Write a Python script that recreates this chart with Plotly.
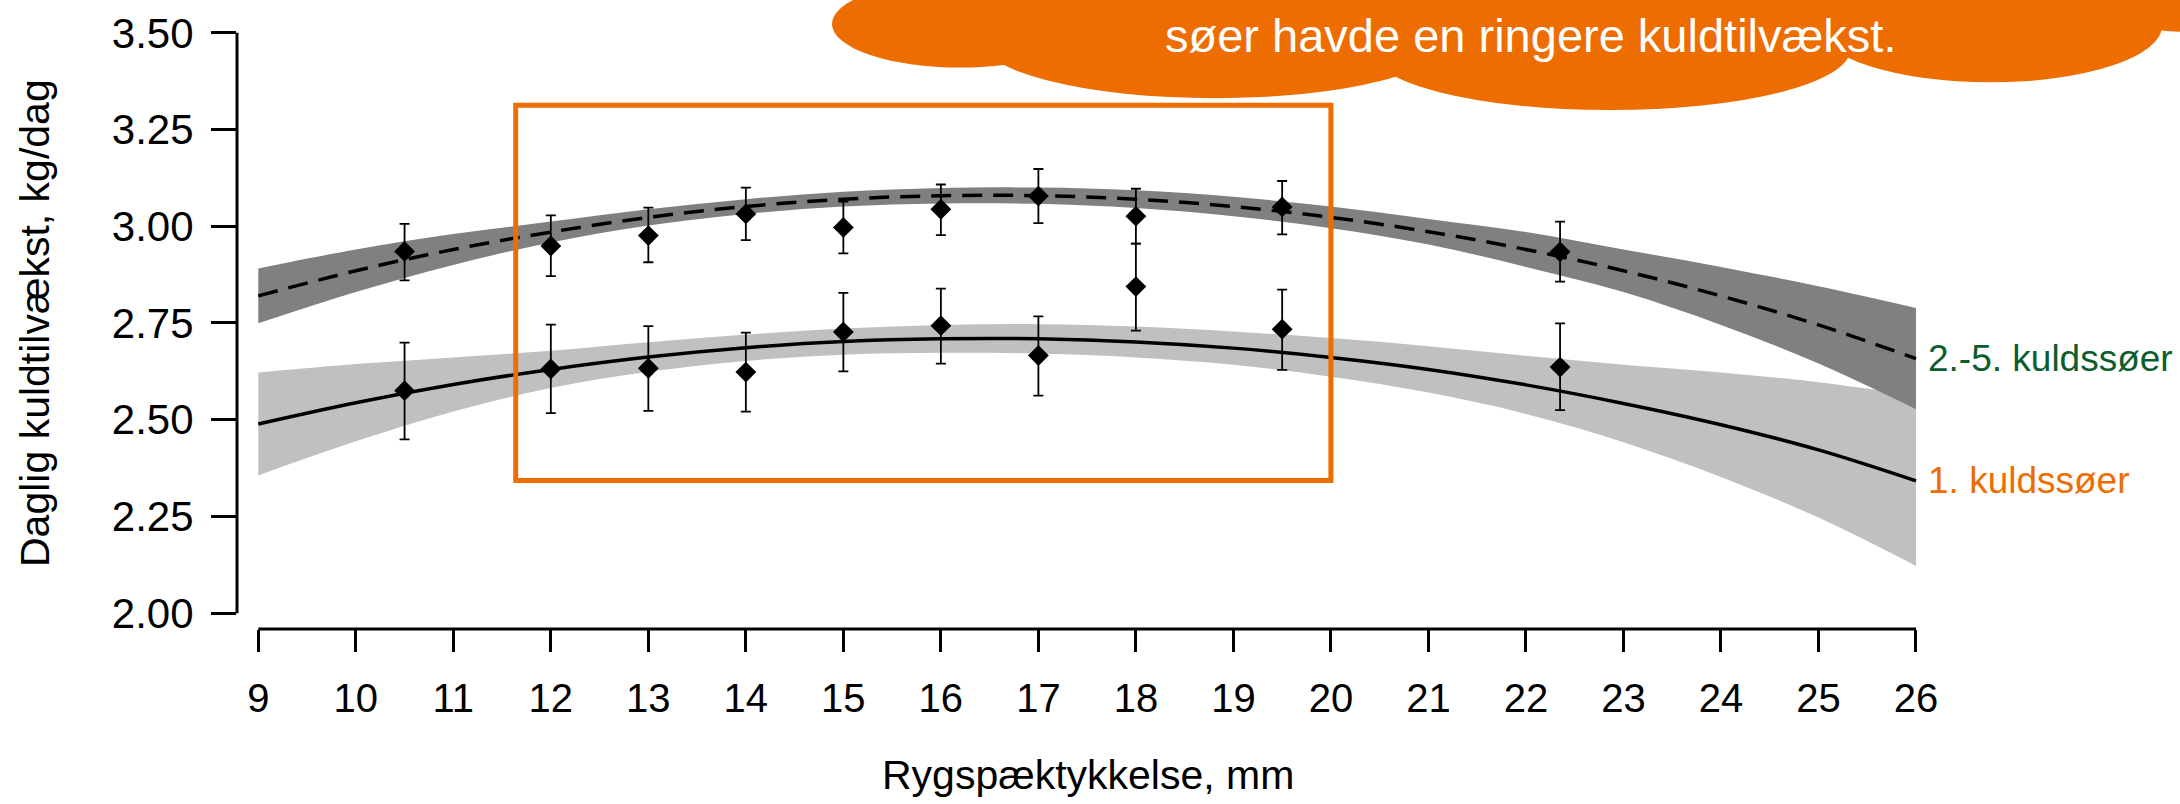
import plotly.graph_objects as go

# ---------------- data ----------------
x_curve = [9, 10, 11, 12, 13, 14, 15, 16, 17, 18, 19, 20, 21, 22, 23, 24, 25, 26]

# 2.-5. kuldssøer: fitted curve + confidence band
multi_fit = [2.820, 2.885, 2.940, 2.985, 3.023, 3.051, 3.070, 3.079, 3.079, 3.070,
             3.051, 3.023, 2.986, 2.940, 2.885, 2.820, 2.745, 2.658]
multi_band_hi = [2.891, 2.940, 2.980, 3.012, 3.044, 3.070, 3.089, 3.099, 3.100, 3.093,
                 3.076, 3.051, 3.019, 2.985, 2.940, 2.895, 2.845, 2.789]
multi_band_lo = [2.749, 2.830, 2.900, 2.958, 3.002, 3.032, 3.051, 3.059, 3.058, 3.047,
                 3.026, 2.995, 2.953, 2.895, 2.830, 2.745, 2.645, 2.527]

# 1. kuldssøer: fitted curve + confidence band
first_fit = [2.489, 2.544, 2.591, 2.630, 2.662, 2.686, 2.702, 2.709, 2.709, 2.701,
             2.685, 2.661, 2.630, 2.590, 2.542, 2.487, 2.422, 2.342]
first_band_hi = [2.622, 2.644, 2.661, 2.678, 2.700, 2.720, 2.736, 2.745, 2.747, 2.741,
                 2.728, 2.711, 2.690, 2.665, 2.642, 2.622, 2.597, 2.562]
first_band_lo = [2.356, 2.444, 2.521, 2.582, 2.624, 2.652, 2.668, 2.673, 2.671, 2.661,
                 2.642, 2.611, 2.570, 2.515, 2.442, 2.352, 2.247, 2.122]

# observed group means with error bars
x_points = [10.5, 12, 13, 14, 15, 16, 17, 18, 19.5, 22.35]
multi_mean = [2.935, 2.949, 2.976, 3.032, 2.997, 3.044, 3.078, 3.026, 3.050, 2.934]
multi_err_hi = [3.006, 3.028, 3.048, 3.100, 3.064, 3.108, 3.148, 3.097, 3.117, 3.012]
multi_err_lo = [2.860, 2.871, 2.907, 2.964, 2.930, 2.977, 3.008, 2.955, 2.979, 2.857]
first_mean = [2.575, 2.631, 2.633, 2.623, 2.727, 2.743, 2.666, 2.844, 2.734, 2.636]
first_err_hi = [2.699, 2.746, 2.742, 2.725, 2.828, 2.839, 2.767, 2.955, 2.836, 2.749]
first_err_lo = [2.449, 2.517, 2.523, 2.521, 2.625, 2.645, 2.562, 2.730, 2.629, 2.525]

y_ticks = [2.00, 2.25, 2.50, 2.75, 3.00, 3.25, 3.50]
x_ticks = list(range(9, 27))

label_multi = "2.-5. kuldssøer"
label_first = "1. kuldssøer"
x_title = "Rygspæktykkelse, mm"
y_title = "Daglig kuldtilvækst, kg/dag"
cloud_text = "søer havde en ringere kuldtilvækst."

# ---------------- layout geometry ----------------
W, H = 2180, 804
ML, MR, MT, MB = 237, 245, 10, 175
PW, PH = W - ML - MR, H - MT - MB
XR = [8.7816, 26.195]
YR = [1.959, 3.5435]
FONT = "Liberation Sans, Arial, Helvetica, sans-serif"
ORANGE = "#EE6D00"
GREEN = "#0B5E2C"


def px(xp):
    return (xp - ML) / PW


def py(yp):
    return (H - MB - yp) / PH


def xpaper(v):
    return (v - XR[0]) / (XR[1] - XR[0])


def ypaper(v):
    return (v - YR[0]) / (YR[1] - YR[0])


fig = go.Figure()

# light band (1. kuldssøer)
fig.add_trace(go.Scatter(x=x_curve, y=first_band_lo, mode="lines",
                         line=dict(width=0, shape="spline", color="#C0C0C0"),
                         showlegend=False, hoverinfo="skip"))
fig.add_trace(go.Scatter(x=x_curve, y=first_band_hi, mode="lines", fill="tonexty",
                         fillcolor="#C0C0C0",
                         line=dict(width=0, shape="spline", color="#C0C0C0"),
                         showlegend=False, hoverinfo="skip"))
# dark band (2.-5. kuldssøer)
fig.add_trace(go.Scatter(x=x_curve, y=multi_band_lo, mode="lines",
                         line=dict(width=0, shape="spline", color="#808080"),
                         showlegend=False, hoverinfo="skip"))
fig.add_trace(go.Scatter(x=x_curve, y=multi_band_hi, mode="lines", fill="tonexty",
                         fillcolor="#808080",
                         line=dict(width=0, shape="spline", color="#808080"),
                         showlegend=False, hoverinfo="skip"))
# fitted lines
fig.add_trace(go.Scatter(x=x_curve, y=first_fit, mode="lines",
                         line=dict(width=3.5, shape="spline", color="black"),
                         showlegend=False))
fig.add_trace(go.Scatter(x=x_curve, y=multi_fit, mode="lines",
                         line=dict(width=3.5, shape="spline", color="black", dash="20px,11px"),
                         showlegend=False))

# points with error bars
for mean, hi, lo in [(first_mean, first_err_hi, first_err_lo),
                     (multi_mean, multi_err_hi, multi_err_lo)]:
    fig.add_trace(go.Scatter(
        x=x_points, y=mean, mode="markers",
        marker=dict(symbol="diamond", size=16, color="black"),
        error_y=dict(type="data", symmetric=False,
                     array=[h - m for h, m in zip(hi, mean)],
                     arrayminus=[m - l for m, l in zip(mean, lo)],
                     thickness=1.8, width=5, color="black"),
        showlegend=False))

shapes = []
# detached axis lines
shapes.append(dict(type="line", xref="paper", yref="paper", x0=0, x1=0,
                   y0=ypaper(2.0), y1=ypaper(3.5), line=dict(color="black", width=3)))
shapes.append(dict(type="line", xref="paper", yref="paper", x0=xpaper(9), x1=xpaper(26),
                   y0=0, y1=0, line=dict(color="black", width=3)))
# orange highlight box
shapes.append(dict(type="rect", xref="x", yref="y", x0=11.64, x1=20.0, y0=2.343, y1=3.313,
                   line=dict(color=ORANGE, width=5), fillcolor="rgba(0,0,0,0)"))
# cloud (pixel ellipses)
cloud_parts = [
    ("circle", 832, -26, 1088, 62),
    ("circle", 980, -27, 1450, 93),
    ("circle", 1370, -17, 1850, 105),
    ("circle", 1818, -37, 2162, 77),
    ("rect", 880, -10, 2150, 40),
    ("circle", 2120, -30, 2240, 26),
]
for kind, x0, y0, x1, y1 in cloud_parts:
    shapes.append(dict(type=kind, xref="paper", yref="paper",
                       x0=px(x0), x1=px(x1), y0=py(y1), y1=py(y0),
                       fillcolor=ORANGE, line=dict(width=0), layer="above"))

annotations = [
    dict(text=cloud_text, xref="paper", yref="paper", x=px(1530), y=py(30),
         xanchor="center", yanchor="middle", showarrow=False,
         font=dict(family=FONT, size=47, color="white")),
    dict(text=label_multi, xref="x", yref="y", x=26, y=multi_fit[-1], xshift=10,
         xanchor="left", yanchor="middle", showarrow=False,
         font=dict(family=FONT, size=37, color=GREEN)),
    dict(text=label_first, xref="x", yref="y", x=26, y=first_fit[-1], xshift=10,
         xanchor="left", yanchor="middle", showarrow=False,
         font=dict(family=FONT, size=37, color=ORANGE)),
    dict(text=x_title, xref="paper", yref="paper", x=px(1088), y=py(776),
         xanchor="center", yanchor="middle", showarrow=False,
         font=dict(family=FONT, size=41, color="black")),
    dict(text=y_title, xref="paper", yref="paper", x=px(35), y=py(320),
         xanchor="center", yanchor="middle", showarrow=False, textangle=-90,
         font=dict(family=FONT, size=41, color="black")),
]

fig.update_layout(
    width=W, height=H,
    margin=dict(l=ML, r=MR, t=MT, b=MB, pad=0),
    paper_bgcolor="white", plot_bgcolor="white",
    shapes=shapes, annotations=annotations,
    showlegend=False,
    font=dict(family=FONT, color="black"),
)
fig.update_xaxes(range=XR, tickvals=x_ticks, ticktext=[str(v) for v in x_ticks],
                 ticks="outside", ticklen=22, tickwidth=3, tickcolor="black",
                 showline=False, showgrid=False, zeroline=False,
                 tickfont=dict(family=FONT, size=40, color="black"),
                 ticklabelstandoff=12)
fig.update_yaxes(range=YR, tickvals=y_ticks, ticktext=[f"{v:.2f}" for v in y_ticks],
                 ticks="outside", ticklen=25, tickwidth=3, tickcolor="black",
                 showline=False, showgrid=False, zeroline=False,
                 tickfont=dict(family=FONT, size=42, color="black"),
                 ticklabelstandoff=9)

fig.write_html("out.html")
